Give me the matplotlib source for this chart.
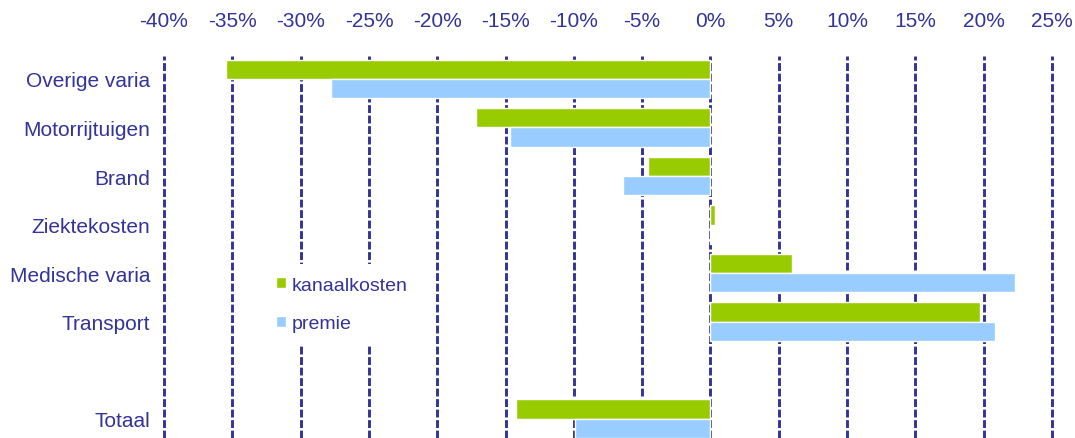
import matplotlib
matplotlib.use('Agg')
import matplotlib.pyplot as plt
from matplotlib.patches import Rectangle
import numpy as np

categories = ['Overige varia', 'Motorrijtuigen', 'Brand', 'Ziektekosten',
              'Medische varia', 'Transport', '', 'Totaal']
kanaalkosten = [-35.5, -17.2, -4.6, 0.3, 6.0, 19.7, None, -14.2]
premie = [-27.8, -14.7, -6.4, 0.05, 22.3, 20.8, None, -9.9]
xticks = [-40, -35, -30, -25, -20, -15, -10, -5, 0, 5, 10, 15, 20, 25]

navy = '#333399'
green = '#99CC00'
blue = '#99CCFF'

plt.rcParams['font.family'] = ['Liberation Sans', 'DejaVu Sans']

fig = plt.figure(figsize=(10.75, 4.39), dpi=100)
ax = fig.add_axes([0.1526, 0.0, 0.826, 0.8702])

pos = np.arange(len(categories))
h = 0.4
for i in range(len(categories)):
    if kanaalkosten[i] is None:
        continue
    ax.barh(pos[i] - h / 2, kanaalkosten[i], height=h, color=green,
            edgecolor='white', linewidth=1, zorder=3,
            label='kanaalkosten' if i == 0 else None)
    ax.barh(pos[i] + h / 2, premie[i], height=h, color=blue,
            edgecolor='white', linewidth=1, zorder=3,
            label='premie' if i == 0 else None)

for x in xticks:
    ax.axvline(x, color=navy, lw=2.1, dashes=(2.7, 0.9), zorder=1, clip_on=False)

ax.set_xlim(-40, 25)
ax.set_ylim(7.40, -0.474)
ax.set_yticks(pos)
ax.set_yticklabels(categories)
ax.xaxis.tick_top()
ax.set_xticks(xticks)
ax.set_xticklabels(['%d%%' % x for x in xticks])
ax.tick_params(axis='x', length=0, pad=18.5, labelsize=15, labelcolor=navy)
ax.tick_params(axis='y', length=0, pad=10, labelsize=15, labelcolor=navy)
for s in ax.spines.values():
    s.set_visible(False)

# white box behind the legend hides the gridlines
ax.add_patch(Rectangle((0.119, 0.241), 0.175, 0.214, transform=ax.transAxes,
                       facecolor='white', edgecolor='none', zorder=4))
leg = ax.legend(loc='center left', bbox_to_anchor=(0.1, 0.35), frameon=False,
                fontsize=14, handlelength=0.5, handleheight=0.5,
                handletextpad=0.3, labelspacing=1.1, borderpad=0.7)
leg.set_zorder(5)
for t in leg.get_texts():
    t.set_color(navy)

plt.savefig('out.png', dpi=100)
plt.close()
